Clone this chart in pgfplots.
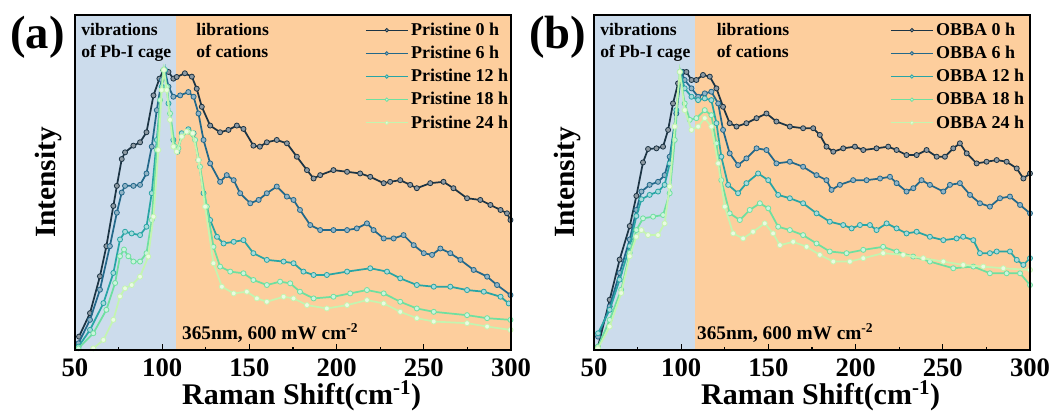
\documentclass[border=0pt]{standalone}
\usepackage{pgfplots}
\pgfplotsset{compat=1.18}
\usepackage{fontspec}
\setmainfont{Liberation Serif}
\definecolor{cA}{RGB}{28,52,68}
\definecolor{cB}{RGB}{35,104,138}
\definecolor{cC}{RGB}{40,165,165}
\definecolor{cD}{RGB}{110,224,160}
\definecolor{cE}{RGB}{196,245,176}
\definecolor{bluebg}{RGB}{204,220,236}
\definecolor{orangebg}{RGB}{253,206,157}
\pgfplotsset{
  ramanaxis/.style={
    scale only axis, width=327pt, height=251.25pt,
    xmin=50, xmax=300, ymin=0, ymax=100,
    xtick={50,100,...,300}, minor x tick num=1, ytick=\empty,
    tick align=inside, xtick pos=bottom,
    major tick length=4.5pt, minor tick length=2.5pt,
    axis line style={line width=1.1pt}, tick style={line width=1pt, black},
    axis on top, clip mode=individual,
    /pgf/number format/assume math mode=true,
    ticklabel style={font=\fontsize{20}{20}\selectfont\bfseries},
    xticklabel style={anchor=base, yshift=-20pt},
    xlabel={Raman Shift(cm\textsuperscript{-1})},
    ylabel={Intensity},
    every axis x label/.style={at={(rel axis cs:0.52,0)}, anchor=base, yshift=-41pt, font=\fontsize{22.5}{22.5}\selectfont\bfseries},
    every axis y label/.style={at={(rel axis cs:-0.06,0.5)}, rotate=90, anchor=center, font=\fontsize{22}{22}\selectfont\bfseries},
    legend style={draw=none, fill=none, anchor=north west, font=\fontsize{13.5}{15}\selectfont\bfseries, row sep=2.5pt, inner sep=0pt, cells={anchor=west}},
    legend image code/.code={\draw[mark repeat=2,mark phase=2,#1,line width=0.9pt,mark size=1.3pt] plot coordinates {(0pt,0pt) (15.75pt,0pt) (31.5pt,0pt)};},
    every axis plot/.append style={line width=1.3pt, mark=*, mark size=1.9pt},
  },
  sA/.style={color=cA, mark options={fill=cA!50!white, draw=cA, line width=0.6pt}},
  sB/.style={color=cB, mark options={fill=cB!50!white, draw=cB, line width=0.6pt}},
  sC/.style={color=cC, mark options={fill=cC!40!white, draw=cC, line width=0.6pt}},
  sD/.style={color=cD, mark options={fill=cD!35!white, draw=cD, line width=0.6pt}},
  sE/.style={color=cE, mark options={fill=cE!35!white, draw=cE, line width=0.6pt}},
}
\begin{document}
\begin{tikzpicture}
\begin{axis}[ramanaxis, at={(0pt,0pt)}, anchor=south west,
  legend style={at={(rel axis cs:0.665,0.985)}}]
\fill[bluebg] (axis cs:50,0) rectangle (axis cs:108,100);
\fill[orangebg] (axis cs:108,0) rectangle (axis cs:300,100);
\addplot[sA] coordinates {(52.3,4) (58.6,11) (64.3,22) (68,31) (72,43) (74,49) (76.8,57) (78.7,59) (83.5,61) (87.3,62) (91,65) (95,76) (98.4,81) (100.7,83.5) (103.6,83) (106.4,81) (108.3,81.5) (113,82.6) (117,81.6) (119.8,78) (122.7,72.6) (127.5,67) (133.2,65) (138,65.7) (142.8,67) (146.6,66) (152.3,61) (156,60.7) (160,62) (165.7,62.7) (171.5,61.7) (177.2,57.7) (183,53.7) (186.8,51.2) (190.6,52.2) (198.2,53.7) (206,53.2) (213.5,52.7) (219.3,51.7) (227,49.8) (230.7,50.2) (236.5,50.7) (242.2,49.3) (246,48.3) (253.7,49.8) (261.3,50.2) (267,48.3) (274.8,45.3) (282.4,44.8) (288.2,43.3) (294,41.8) (297.7,40.8) (299.7,38.8)};
\addplot[sB] coordinates {(52,2) (58.6,9) (64.3,18) (70,31) (74,41) (76.8,47) (78.7,49) (83.5,49) (87.3,49.3) (91,52.7) (94,60.7) (96.9,71.6) (99.7,80.6) (101.6,83.4) (103.6,78.6) (106.4,75.6) (110.3,76) (115,77) (118,75.6) (120.8,70.6) (123.7,62.7) (127.5,55.7) (133.2,50.2) (137,52.2) (141,50.7) (144.7,46.8) (150.5,43.8) (155.3,44.8) (160,46.8) (165.7,48.8) (171.5,45.8) (175.3,44.8) (179,41.8) (184.9,37.3) (190.6,35.8) (198.2,35.8) (206,35.8) (211.6,36.3) (217.4,37.8) (221.2,35.8) (227,33.3) (232.7,33.3) (238.4,34.3) (244.2,31.3) (250,28.9) (254.7,28.4) (259.5,30.3) (265.2,28.9) (271,26.9) (278.6,23.9) (286.3,21.9) (292,19.4) (299.7,16.4)};
\addplot[sC] coordinates {(52,1) (58.6,6) (66.3,14) (72,23) (75.8,33) (78.7,35.3) (82.5,34.8) (87.3,34.3) (91,36.8) (94,46.8) (96.9,62.7) (99.7,78.6) (101.6,83.6) (103.6,73.6) (106.4,62.7) (108.7,59.2) (111.2,64.7) (115,65.9) (118,64.7) (120.8,56.7) (123.7,46.8) (127.5,38.8) (131.4,33.8) (135.2,31.8) (141,32.3) (146.6,32.8) (152.3,28.9) (160,26.9) (169.6,26.4) (175.3,25.9) (181,23.4) (186.8,22.4) (194.4,22.4) (206,23.4) (219.3,24.4) (228.9,23.4) (236.5,21.4) (246,19.4) (255.7,18.9) (265.2,18.9) (274.8,17.9) (284.4,17.4) (294,15.9) (298.7,13.9)};
\addplot[sD] coordinates {(52,0.5) (60.5,5) (68,12) (73,20) (75.8,28) (78.1,30) (80.6,28) (83.5,26.4) (87.3,26.4) (91,28.9) (94,38.8) (96.9,59.7) (98.8,74.6) (100.7,83.6) (102.6,78.6) (104.5,70.6) (107.4,60.7) (109.3,60.2) (111.2,63.7) (115,65.2) (118.9,62.7) (121.7,54.7) (125.6,42.8) (129.4,30.8) (133.2,24.9) (139,23.4) (146.6,22.9) (152.3,20.9) (160,19.4) (167.6,20.4) (173.4,19.9) (179,17.4) (186.8,15.4) (198.2,15.9) (207.8,16.9) (217.4,17.9) (227,16.9) (236.5,14.4) (246,12.4) (255.7,11.4) (274.8,10.4) (286.3,9.5) (299.7,9)};
\addplot[sE] coordinates {(60.5,0.5) (66.3,3) (72,9) (75.8,16) (78.7,18.4) (82.5,19.4) (87.3,21.9) (92,27.9) (95,39.8) (97.8,59.7) (99.7,77.6) (101,83.6) (102.6,77.6) (104.5,68.7) (106.4,60.7) (108.3,59.2) (111.2,63.7) (114,65.2) (117.5,64.7) (120.8,56.7) (124.6,42.8) (129.4,25.9) (134.2,18.9) (141,16.9) (148.5,17.4) (154.3,15.4) (160,14.4) (169.6,15.9) (175.3,15.4) (183,13.4) (194.4,12.4) (206,13.4) (217.4,14.9) (227,13.9) (236.5,11.4) (246,9.5) (255.7,8.5) (274.8,8) (286.3,7) (299.7,6)};
\legend{Pristine 0 h, Pristine 6 h, Pristine 12 h, Pristine 18 h, Pristine 24 h}
\node[anchor=north west, align=left, font=\fontsize{13.2}{16.25}\selectfont\bfseries, inner sep=0pt] at (rel axis cs:0.014,0.975) {vibrations\\of Pb-I cage};
\node[anchor=north west, align=left, font=\fontsize{13.2}{16.25}\selectfont\bfseries, inner sep=0pt] at (rel axis cs:0.278,0.975) {librations\\of cations};
\node[anchor=west, font=\fontsize{14.5}{16}\selectfont\bfseries, inner sep=0pt] at (rel axis cs:0.245,0.05) {365nm, 600 mW cm\textsuperscript{-2}};
\node[font=\fontsize{35}{35}\selectfont\bfseries, inner sep=0pt] at (rel axis cs:-0.086,0.934) {(a)};
\end{axis}
\begin{axis}[ramanaxis, at={(389.25pt,0pt)}, anchor=south west,
  legend style={at={(rel axis cs:0.679,0.985)}}]
\fill[bluebg] (axis cs:50,0) rectangle (axis cs:108,100);
\fill[orangebg] (axis cs:108,0) rectangle (axis cs:300,100);
\addplot[sA] coordinates {(52.3,1) (59,15) (64.7,27) (70.5,37) (74.3,46) (78.1,56) (81,60) (85.8,60.2) (89.6,60.7) (92.5,65.7) (95.3,73.6) (98.2,79.6) (101,83) (103,83) (105.9,80.6) (108.7,80.6) (112.5,82.1) (116.4,81.6) (120.2,78.1) (124,72.6) (127.8,67.7) (131.7,66.7) (137.4,67.7) (143.2,69.2) (148.9,70.6) (154.6,68.2) (162.3,66.7) (169.9,66.2) (175.7,66.2) (179.5,64.2) (183.3,60.7) (187.2,59.2) (192.9,60.2) (199.6,60.7) (204.4,59.7) (212,60.2) (218.7,60.7) (223.5,59.7) (229.2,58.2) (235,58.2) (240.7,59.7) (246.5,57.7) (251.2,57.7) (256,60.2) (259.8,61.7) (263.7,58.7) (269.4,55.7) (275.1,56.2) (280.9,56.7) (286.6,56.2) (292.4,54.2) (296.2,51.2) (300,52.7)};
\addplot[sB] coordinates {(52.3,4) (59,13) (64.7,23) (70.5,33) (74.3,41.8) (77.2,47.3) (81.9,49.3) (86.7,50.2) (90.5,52.2) (93.4,57.7) (97.2,70.6) (100.1,83) (102,80.6) (105.9,78.1) (109.7,75.6) (113.5,76.6) (117.3,77.1) (121.2,73.6) (124,65.7) (127.8,58.7) (132.6,55.2) (137.4,57.2) (143.2,60.2) (148.9,59.7) (154.6,55.7) (162.3,56.2) (169.9,54.7) (177.6,52.2) (183.3,50.7) (186.2,47.8) (191,49.3) (198.6,50.7) (206.3,50.7) (214,51.2) (219.7,51.7) (223.5,49.8) (229.2,47.3) (233.1,48.3) (237.8,50.7) (242.6,49.3) (250.3,47.3) (254.1,49.3) (259.8,49.8) (265.6,46.3) (271.3,43.8) (277,42.8) (282.8,45.3) (288.5,45.8) (294.3,43.3) (300,40.8)};
\addplot[sC] coordinates {(52.3,5) (59,12) (64.7,21) (70.5,31) (74.3,40) (77.2,45) (81.9,46.3) (86.7,47.3) (90.5,49.3) (93.4,55.7) (97.2,71.6) (99.5,83) (102,78.1) (105.9,75.6) (109.7,74.6) (113.5,75.1) (117.3,74.6) (120.2,67.7) (123,57.7) (126.9,49.3) (132.6,46.8) (137.4,49.8) (144.1,52.7) (149.9,50.7) (155.6,46.3) (162.3,45.3) (169.9,43.8) (177.6,40.8) (185.2,38.3) (192.9,37.3) (197.7,36.3) (202.5,37.3) (208.2,37.3) (212,35.8) (217.8,37.8) (223.5,36.3) (229.2,34.8) (235,35.3) (242.6,33.8) (250.3,32.8) (257.9,33.3) (261.7,33.8) (267.5,32.8) (271.3,28.9) (277,28.9) (280.9,29.4) (288.5,29.4) (292.4,26.9) (296.2,25.4) (300,27.4)};
\addplot[sD] coordinates {(52.3,1) (59,9) (65.6,18) (70.5,29) (74.3,35.8) (78.1,39.3) (83.9,39.8) (89.6,40.3) (93.4,46.8) (96.3,62.7) (99.2,83) (102,73.6) (104.9,68.7) (108.7,69.2) (113.5,71.6) (117.3,70.1) (120.2,61.7) (123,50.7) (127.8,40.8) (133.6,38.8) (139.3,41.8) (145.1,43.8) (149.9,42.3) (155.6,36.8) (162.3,35.8) (169.9,34.3) (177.6,31.8) (185.2,29.4) (194.8,28.9) (204.4,29.9) (215.8,30.8) (223.5,29.4) (233,27.9) (242.6,26.4) (256,24.4) (267.5,24.9) (277,22.9) (286.6,22.9) (294.3,22.9) (300,19.4)};
\addplot[sE] coordinates {(52.3,0.5) (59,7) (65.6,17) (70.5,28) (74.3,33.8) (77.2,35.8) (81,34.3) (86.7,34.3) (90.5,37.8) (93.4,48.8) (96.3,66.7) (99.2,83) (102,71.6) (105.9,65.7) (109.7,66.7) (113.5,69.2) (117.3,66.7) (121.2,55.7) (125,42.8) (129.8,34.8) (135.5,33.3) (141.2,35.3) (147.9,37.8) (152.7,34.8) (156.6,31.3) (164.2,32.3) (171.9,30.8) (179.5,28.4) (187.2,26.4) (196.7,26.4) (204.4,27.4) (215.8,28.9) (227.3,28.4) (238.8,27.4) (250.3,26.4) (261.7,25.4) (273.2,24.9) (284.7,24.4) (300,23.9)};
\legend{OBBA 0 h, OBBA 6 h, OBBA 12 h, OBBA 18 h, OBBA 24 h}
\node[anchor=north west, align=left, font=\fontsize{13.2}{16.25}\selectfont\bfseries, inner sep=0pt] at (rel axis cs:0.014,0.975) {vibrations\\of Pb-I cage};
\node[anchor=north west, align=left, font=\fontsize{13.2}{16.25}\selectfont\bfseries, inner sep=0pt] at (rel axis cs:0.281,0.975) {librations\\of cations};
\node[anchor=west, font=\fontsize{14.5}{16}\selectfont\bfseries, inner sep=0pt] at (rel axis cs:0.236,0.05) {365nm, 600 mW cm\textsuperscript{-2}};
\node[font=\fontsize{35}{35}\selectfont\bfseries, inner sep=0pt] at (rel axis cs:-0.083,0.934) {(b)};
\end{axis}
\pgfresetboundingbox
\path[use as bounding box] (-56.25pt,-46.5pt) rectangle (733.5pt,262.5pt);
\end{tikzpicture}
\end{document}
